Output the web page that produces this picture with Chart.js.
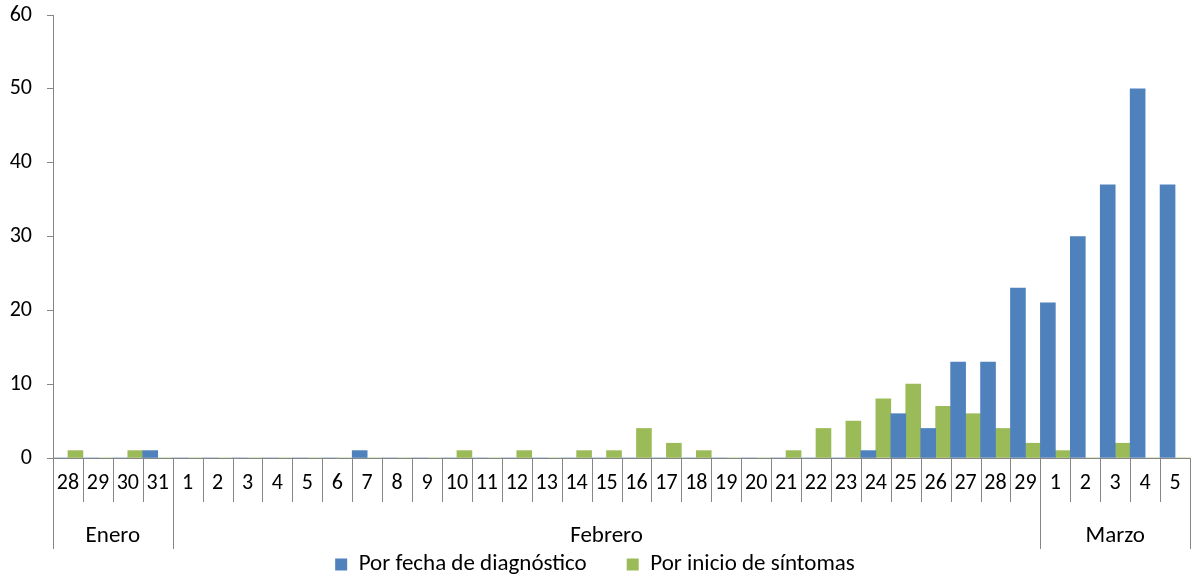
<!DOCTYPE html>
<html>
<head>
<meta charset="utf-8">
<script src="https://cdn.jsdelivr.net/npm/chart.js@4/dist/chart.umd.min.js"></script>
<style>
  html, body { margin: 0; padding: 0; background: #fff; }
  #wrap { width: 1197px; height: 577px; }
</style>
</head>
<body>
<div id="wrap"><canvas id="chart"></canvas></div>
<script>
const days = ['28', '29', '30', '31',
  '1', '2', '3', '4', '5', '6', '7', '8', '9', '10', '11', '12', '13', '14', '15',
  '16', '17', '18', '19', '20', '21', '22', '23', '24', '25', '26', '27', '28', '29',
  '1', '2', '3', '4', '5'];
const months = ['Enero', 'Febrero', 'Marzo'];
const monthSpans = [4, 29, 5];

const diagnostico = [0, 0, 0, 1,
  0, 0, 0, 0, 0, 0, 1, 0, 0, 0, 0, 0, 0, 0, 0,
  0, 0, 0, 0, 0, 0, 0, 0, 1, 6, 4, 13, 13, 23,
  21, 30, 37, 50, 37];
const sintomas = [1, 0, 1, 0,
  0, 0, 0, 0, 0, 0, 0, 0, 0, 1, 0, 1, 0, 1, 1,
  4, 2, 1, 0, 0, 1, 4, 5, 8, 10, 7, 6, 4, 2,
  1, 0, 2, 0, 0];
const yTicks = [0, 10, 20, 30, 40, 50, 60];

const AXIS = '#868686';
const FONT = 'Carlito, Lato, sans-serif';

// day separators + month row under the x axis
const monthAxis = {
  id: 'monthAxis',
  afterDraw(chart) {
    const x = chart.scales.x;
    const ctx = chart.ctx;
    const half = (x.getPixelForValue(1) - x.getPixelForValue(0)) / 2;
    const top = chart.chartArea.bottom;
    ctx.save();
    ctx.strokeStyle = AXIS;
    ctx.lineWidth = 1;
    ctx.beginPath();
    for (let i = 0; i <= days.length; i++) {
      const px = Math.round(x.getPixelForValue(i) - half) + 0.5;
      ctx.moveTo(px, top);
      ctx.lineTo(px, top + 44);
    }
    let start = 0;
    const edges = [0];
    monthSpans.forEach(n => { start += n; edges.push(start); });
    edges.forEach(e => {
      const px = Math.round(x.getPixelForValue(e) - half) + 0.5;
      ctx.moveTo(px, top + 44);
      ctx.lineTo(px, top + 91);
    });
    ctx.stroke();
    ctx.fillStyle = '#000';
    ctx.font = '23px ' + FONT;
    ctx.textAlign = 'center';
    ctx.textBaseline = 'middle';
    months.forEach((m, k) => {
      const a = x.getPixelForValue(edges[k]) - half;
      const b = x.getPixelForValue(edges[k + 1]) - half;
      ctx.fillText(m, (a + b) / 2, top + 78);
    });
    ctx.restore();
  }
};

new Chart(document.getElementById('chart'), {
  type: 'bar',
  data: {
    labels: days,
    datasets: [
      {
        label: 'Por fecha de diagnóstico',
        data: diagnostico,
        backgroundColor: '#4f81bd',
        categoryPercentage: 1.0, barPercentage: 1.0
      },
      {
        label: 'Por inicio de síntomas',
        data: sintomas,
        backgroundColor: '#9bbb59',
        categoryPercentage: 1.0, barPercentage: 1.0
      }
    ]
  },
  options: {
    responsive: true, maintainAspectRatio: false,
    animation: false,
    layout: { padding: { top: 0, right: 7, left: 0, bottom: -9 } },
    plugins: {
      tooltip: { enabled: false },
      legend: {
        display: true, position: 'bottom',
        labels: { boxWidth: 12, boxHeight: 12, padding: 40, color: '#000', font: { family: FONT, size: 23 } }
      }
    },
    scales: {
      x: {
        grid: { display: true, drawOnChartArea: false, drawTicks: false, color: AXIS },
        border: { color: AXIS },
        ticks: { color: '#000', font: { family: FONT, size: 22 }, padding: 12, maxRotation: 0, autoSkip: false },
        afterFit(s) { s.height = 55; }
      },
      y: {
        min: 0, max: 60,
        grid: { drawOnChartArea: false, drawTicks: true, tickLength: 6, color: AXIS },
        border: { color: AXIS },
        afterBuildTicks(s) { s.ticks = yTicks.map(v => ({ value: v })); },
        ticks: { color: '#000', font: { family: FONT, size: 22 }, padding: 15 },
        afterFit(s) { s.width = 53; s.paddingTop = 15; s.paddingBottom = 0; }
      }
    }
  },
  plugins: [monthAxis]
});
</script>
</body>
</html>
